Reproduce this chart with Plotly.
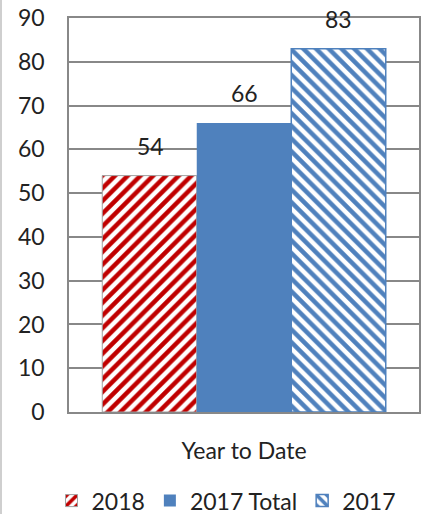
import plotly.graph_objects as go

categories = ["Year to Date"]
series_names = ["2018", "2017 Total", "2017"]
series_values = [[54], [66], [83]]
y_ticks = [0, 10, 20, 30, 40, 50, 60, 70, 80, 90]

RED = "#C00000"
BLUE = "#4F81BD"
GRID = "#888888"
FONT = "Lato, 'Open Sans', sans-serif"
FS = 23

fig = go.Figure()

fig.add_trace(go.Bar(
    name=series_names[0], x=categories, y=series_values[0],
    marker=dict(color="white",
                line=dict(color="#A0A0A0", width=1),
                pattern=dict(shape="/", fgcolor=RED, fgopacity=1, bgcolor="white",
                             size=9, solidity=0.5, fillmode="overlay")),
))
fig.add_trace(go.Bar(
    name=series_names[1], x=categories, y=series_values[1],
    marker=dict(color=BLUE, line=dict(color=BLUE, width=0)),
))
fig.add_trace(go.Bar(
    name=series_names[2], x=categories, y=series_values[2],
    marker=dict(color="white",
                line=dict(color=BLUE, width=1.5),
                pattern=dict(shape="\\", fgcolor=BLUE, fgopacity=1, bgcolor="white",
                             size=9, solidity=0.5, fillmode="overlay")),
))

# data labels
bar_w = 94
for i, vals in enumerate(series_values):
    for c, v in zip(categories, vals):
        fig.add_annotation(x=c, y=v, text=str(v), showarrow=False,
                           xshift=(i - 1) * bar_w, yanchor="bottom", yshift=14,
                           font=dict(family=FONT, size=FS, color="#222222"))

# outer chart border (left edge)
fig.add_shape(type="line", xref="paper", yref="paper",
              x0=-68/350, x1=-68/350, y0=-102/394, y1=18/394 + 1,
              line=dict(color="#BFBFBF", width=1.5))

fig.update_layout(
    width=428, height=514,
    margin=dict(l=69, r=9, t=18, b=102, autoexpand=False),
    paper_bgcolor="white", plot_bgcolor="white",
    barmode="group", bargap=0.19, bargroupgap=0,
    font=dict(family=FONT, size=FS, color="#222222"),
    showlegend=True,
    legend=dict(orientation="h", x=0.45, xanchor="center", y=-0.225, yanchor="middle",
                font=dict(family=FONT, size=FS, color="#222222"),
                itemwidth=30, tracegroupgap=0),
)
fig.update_yaxes(range=[0, 90], tickvals=y_ticks, ticktext=[str(t) for t in y_ticks],
                 showgrid=True, gridcolor=GRID, gridwidth=1.5,
                 showline=True, linecolor=GRID, linewidth=1.5, mirror=True,
                 zeroline=False, ticks="", ticklabelstandoff=18,
                 tickfont=dict(family=FONT, size=FS, color="#222222"))
fig.update_xaxes(showline=True, linecolor=GRID, linewidth=1.5, mirror=True,
                 ticks="", ticklabelstandoff=18,
                 tickfont=dict(family=FONT, size=FS, color="#222222"))

fig.write_html("out.html")
